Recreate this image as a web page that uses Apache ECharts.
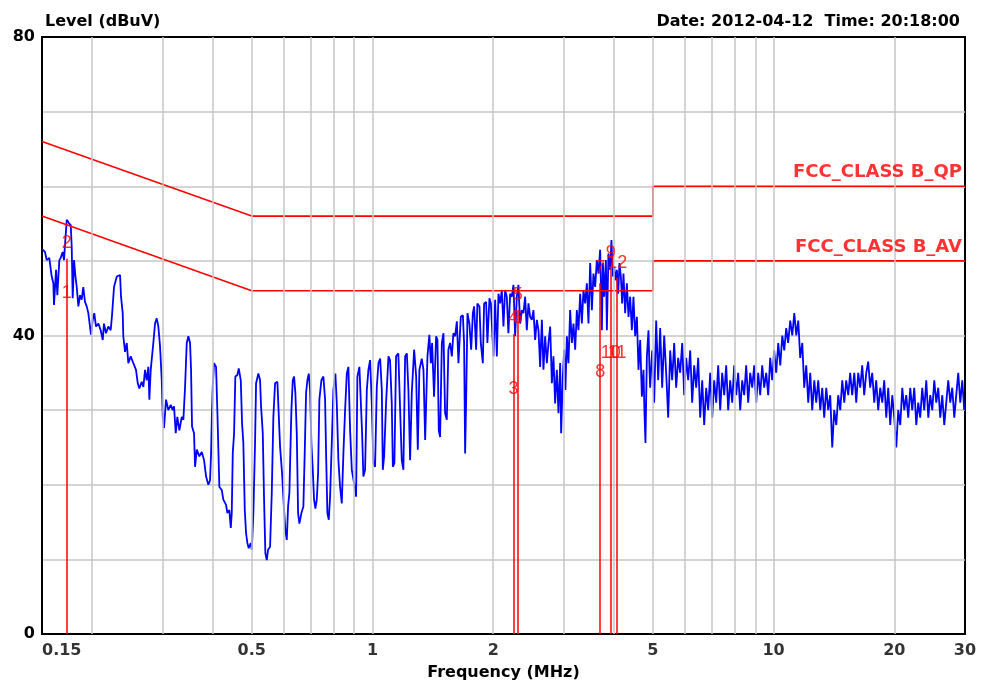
<!DOCTYPE html>
<html>
<head>
<meta charset="utf-8">
<script src="https://cdn.jsdelivr.net/npm/echarts@6.0.0/dist/echarts.min.js"></script>
<style>
html, body { margin: 0; padding: 0; background: #fff; }
#main { width: 983px; height: 686px; }
</style>
</head>
<body>
<div id="main"></div>
<script>
// scan trace, frequency in MHz, level in dBuV
var traceFreq = [
 0.1506,0.1526,0.1541,0.1564,0.1586,0.1601,0.1607,0.1626,0.1638,0.1657,0.1670,0.1689,0.1702,0.1715,0.1729,0.1749,0.1769,0.1779,0.1789,0.1803,
 0.1816,0.1831,0.1848,0.1866,0.1884,0.1901,0.1920,0.1939,0.1957,0.1976,0.1987,0.2007,0.2025,0.2045,0.2073,0.2101,0.2126,0.2141,0.2166,0.2195,
 0.2225,0.2242,0.2268,0.2304,0.2348,0.2361,0.2384,0.2392,0.2416,0.2440,0.2462,0.2496,0.2534,0.2573,0.2599,0.2623,0.2659,0.2684,0.2710,0.2736,
 0.2762,0.2778,0.2800,0.2842,0.2870,0.2898,0.2925,0.2954,0.2983,0.3000,0.3022,0.3057,0.3098,0.3141,0.3177,0.3201,0.3232,0.3262,0.3300,0.3346,
 0.3377,0.3410,0.3443,0.3475,0.3509,0.3529,0.3549,0.3590,0.3611,0.3647,0.3701,0.3753,0.3803,0.3847,0.3898,0.3936,0.3959,0.3975,0.3997,0.4027,
 0.4074,0.4104,0.4152,0.4209,0.4248,0.4315,0.4347,0.4397,0.4433,0.4458,0.4484,0.4518,0.4551,0.4604,0.4641,0.4695,0.4730,0.4765,0.4804,0.4840,
 0.4876,0.4915,0.4972,0.5001,0.5047,0.5096,0.5126,0.5194,0.5245,0.5275,0.5327,0.5367,0.5407,0.5451,0.5491,0.5555,0.5609,0.5661,0.5717,0.5793,
 0.5839,0.5883,0.5951,0.6020,0.6065,0.6114,0.6160,0.6206,0.6278,0.6328,0.6376,0.6423,0.6475,0.6524,0.6573,0.6649,0.6725,0.6780,0.6830,0.6882,
 0.6937,0.6989,0.7041,0.7098,0.7151,0.7205,0.7263,0.7318,0.7372,0.7458,0.7544,0.7618,0.7662,0.7719,0.7781,0.7840,0.7916,0.7990,0.8082,0.8147,
 0.8222,0.8303,0.8384,0.8462,0.8545,0.8629,0.8708,0.8794,0.8880,0.8998,0.9102,0.9170,0.9276,0.9351,0.9421,0.9491,0.9584,0.9679,0.9768,0.9864,
 0.9960,1.005,1.015,1.025,1.035,1.045,1.055,1.061,1.069,1.081,1.096,1.106,1.117,1.124,1.134,1.145,1.160,1.172,1.183,1.194,
 1.206,1.218,1.229,1.241,1.253,1.270,1.285,1.297,1.309,1.327,1.340,1.353,1.371,1.386,1.398,1.408,1.424,1.441,1.452,1.463,
 1.474,1.489,1.503,1.517,1.532,1.546,1.561,1.577,1.591,1.607,1.623,1.638,1.660,1.680,1.692,1.702,1.712,1.725,1.744,1.762,
 1.779,1.792,1.813,1.826,1.848,1.862,1.884,1.898,1.920,1.934,1.957,1.973,2.002,2.022,2.042,2.061,2.081,2.101,2.121,2.141,
 2.162,2.182,2.204,2.225,2.246,2.268,2.290,2.311,2.334,2.357,2.379,2.402,2.425,2.448,2.472,2.496,2.519,2.544,2.569,2.593,
 2.618,2.644,2.668,2.694,2.721,2.746,2.773,2.800,2.826,2.853,2.881,2.908,2.937,2.953,2.982,3.005,3.027,3.052,3.080,3.110,
 3.141,3.170,3.201,3.232,3.262,3.294,3.326,3.357,3.390,3.423,3.455,3.489,3.523,3.555,3.590,3.625,3.659,3.695,3.731,3.753,
 3.781,3.818,3.840,3.875,3.913,3.942,3.974,4.004,4.034,4.067,4.097,4.128,4.161,4.192,4.224,4.265,4.307,4.347,4.389,4.432,
 4.473,4.517,4.562,4.604,4.649,4.694,4.738,4.765,4.792,4.831,4.876,4.904,
 4.923,4.980,5.038,5.096,5.155,5.214,5.275,5.336,5.397,5.460,5.523,5.586,5.651,5.716,5.782,5.849,5.917,5.985,6.054,6.124,
 6.195,6.266,6.339,6.412,6.486,6.561,6.637,6.713,6.791,6.869,6.949,7.029,7.110,7.192,7.275,7.359,7.444,7.530,7.617,7.705,
 7.794,7.884,7.975,8.067,8.160,8.255,8.350,8.447,8.544,8.643,8.743,8.844,8.946,9.049,9.153,9.259,9.366,9.474,9.584,9.694,
 9.806,9.920,10.03,10.15,10.27,10.39,10.51,10.63,10.75,10.87,11.00,11.13,11.26,11.39,11.52,11.65,11.79,11.92,12.06,12.20,
 12.34,12.48,12.63,12.77,12.92,13.07,13.22,13.37,13.53,13.68,13.84,14.00,14.16,14.33,14.49,14.66,14.83,15.00,15.17,15.35,
 15.52,15.70,15.89,16.07,16.25,16.44,16.63,16.82,17.02,17.21,17.41,17.61,17.82,18.02,18.23,18.44,18.66,18.87,19.09,19.31,
 19.53,19.76,19.99,20.22,20.45,20.69,20.93,21.17,21.41,21.66,21.91,22.16,22.42,22.68,22.94,23.20,23.47,23.74,24.02,24.30,
 24.58,24.86,25.15,25.44,25.73,26.03,26.33,26.63,26.94,27.25,27.57,27.88,28.21,28.53,28.86,29.20,29.53,29.87
];
var traceLevel = [
 51.5,51.2,50.1,50.4,47.9,47.0,44.1,48.8,45.4,50.1,50.4,51.2,50.1,52.8,55.5,55.1,54.8,51.9,45.0,50.1,
 48.1,46.5,43.9,45.4,44.8,46.5,44.5,43.9,43.0,41.2,40.1,42.1,43.0,41.2,41.6,40.7,39.4,41.6,40.3,41.2,
 40.7,42.7,46.5,47.9,48.1,45.2,43.0,39.9,37.8,39.0,36.3,37.2,36.3,35.4,33.6,32.9,33.8,33.1,35.4,34.0,
 35.8,31.4,35.4,39.0,41.6,42.3,41.2,38.5,34.0,29.1,27.6,31.4,30.0,30.7,30.0,30.5,26.9,29.1,27.3,29.1,
 28.7,33.1,39.0,39.9,39.0,35.4,27.8,26.9,22.4,24.7,23.8,24.4,23.3,21.1,20.0,20.6,24.2,28.7,33.1,36.3,
 35.8,30.0,19.7,19.3,18.0,17.3,16.2,16.6,14.2,16.2,24.2,26.9,34.5,34.7,35.6,34.0,28.2,25.6,16.6,13.5,
 12.2,11.5,12.2,11.3,16.2,25.6,33.6,34.9,34.0,30.5,26.9,18.0,10.8,9.9,11.3,11.7,18.9,29.1,33.6,33.8,
 34.0,25.1,21.5,16.6,13.9,12.6,17.1,18.9,30.0,34.0,34.5,32.3,26.9,16.2,14.8,16.2,17.1,24.7,32.3,34.0,
 34.9,32.7,25.6,22.0,18.0,16.8,18.0,21.5,31.4,34.0,34.5,31.4,24.2,16.2,15.3,18.4,25.6,32.7,34.9,30.9,
 23.3,19.7,17.5,24.2,30.0,34.9,35.8,27.3,22.0,20.2,18.4,34.5,35.8,35.8,26.9,21.1,22.0,32.7,35.4,36.7,
 30.9,22.9,22.4,33.1,36.3,36.9,32.7,22.0,23.8,30.9,37.2,36.7,30.9,22.4,22.9,37.2,37.6,30.0,23.3,22.0,
 37.2,37.6,32.7,23.3,32.3,38.1,34.5,24.7,35.4,36.9,35.4,26.0,37.2,40.1,36.3,39.0,31.8,39.9,39.4,27.3,
 26.4,39.0,40.3,29.6,28.7,38.1,39.0,37.2,40.3,39.9,41.9,36.3,42.5,42.7,39.0,24.2,31.4,43.0,41.6,38.1,
 43.0,43.9,38.1,44.3,43.9,39.0,36.3,44.3,44.5,39.0,45.0,44.3,37.2,44.8,37.2,45.6,44.3,46.1,41.2,46.1,
 45.2,40.3,45.6,45.2,46.8,39.9,45.2,46.8,41.6,43.4,43.0,45.2,40.7,44.3,42.5,42.1,43.4,39.4,42.1,40.7,
 35.8,42.1,35.4,39.9,36.3,39.0,41.2,33.6,37.2,30.9,35.4,29.6,36.3,26.9,34.5,38.1,32.7,39.9,36.3,43.4,
 39.0,41.6,38.1,43.4,40.7,45.6,41.6,46.1,44.3,47.0,41.6,49.7,43.4,48.3,46.5,50.1,48.3,51.5,40.7,49.7,
 45.2,50.1,40.7,51.0,48.8,52.8,47.9,49.2,47.4,48.8,45.6,49.7,47.9,44.3,48.3,43.0,47.0,42.5,45.2,40.7,
 45.2,39.9,42.5,35.4,39.4,31.8,35.4,29.6,25.6,37.2,40.7,35.4,
 33,38,31,42,34,41,33,40,35,29,38,34,39,33,37,35,39,32,37,34,
 38,31,36,33,37,29,34,28,33,30,35,29,34,31,36,30,35,32,36,30,
 34,31,36,32,35,30,34,32,36,31,35,33,36,31,35,32,36,33,35,32,
 37,34,38,35,39,36,40,38,41,39,42,40,43,40,42,37,39,33,36,31,
 35,30,34,31,34,30,33,29,33,30,32,25,30,28,32,30,34,31,34,32,
 35,32,35,31,35,33,36,32,35,36.5,33,35,31,34,30,33,31,34,29,33,
 28,32,29,25,30,28,33,30,32,29,33,30,33,28,31,29,33,30,34,29,
 32,30,34,31,33,29,32,28,31,34,31,33,29,32,35,31,34,30
];

// FCC class B limit lines
var qpFreq = [0.15, 0.5, 5, 5, 30];
var qpLevel = [66, 56, 56, 60, 60];
var avFreq = [0.15, 0.5, 5, 5, 30];
var avLevel = [56, 46, 46, 50, 50];
var limitNames = ['FCC_CLASS B_QP', 'FCC_CLASS B_AV'];

// final measurement markers
var markerFreq = [0.1729, 0.1729, 2.246, 2.246, 2.303, 2.303, 3.695, 3.695, 3.929, 3.929, 4.074, 4.074];
var markerLevel = [43.6, 50.3, 30.8, 40.2, 43.3, 40.2, 47.0, 33.0, 49.0, 35.6, 35.6, 47.7];
var markerName = ['1', '2', '3', '4', '5', '6', '7', '8', '9', '10', '11', '12'];

// axis ticks
var gridFreq = [0.2, 0.3, 0.4, 0.5, 0.6, 0.7, 0.8, 0.9, 1, 2, 3, 4, 5, 6, 7, 8, 9, 10, 20];
var tickFreq = [0.15, 0.5, 1, 2, 5, 10, 20, 30];
var tickText = ['0.15', '0.5', '1', '2', '5', '10', '20', '30'];

var FONT = 'DejaVu Sans';

function zip(xs, ys) {
    var out = [];
    for (var i = 0; i < xs.length; i++) out.push([xs[i], ys[i]]);
    return out;
}

// limit names sit at the right end of each limit line
var limitLabelData = [
    { value: [qpFreq[qpFreq.length - 1], qpLevel[qpLevel.length - 1]], name: limitNames[0] },
    { value: [avFreq[avFreq.length - 1], avLevel[avLevel.length - 1]], name: limitNames[1] }
];

// vertical red lines, one per marker frequency, from highest marker down to 0
var markerTops = {};
for (var i = 0; i < markerFreq.length; i++) {
    var k = markerFreq[i];
    if (markerTops[k] == null || markerLevel[i] > markerTops[k]) markerTops[k] = markerLevel[i];
}
var markerLines = [];
for (var f in markerTops) {
    markerLines.push([{ coord: [Number(f), markerTops[f]] }, { coord: [Number(f), 0] }]);
}

var tickData = [];
for (var i = 0; i < tickFreq.length; i++) {
    var item = { value: [tickFreq[i], 0], name: tickText[i] };
    if (i == 0) item.label = { align: 'left' };
    tickData.push(item);
}

var markerData = [];
for (var i = 0; i < markerFreq.length; i++) {
    markerData.push({ value: [markerFreq[i], markerLevel[i]], name: markerName[i] });
}

var chart = echarts.init(document.getElementById('main'));
var option = {
    animation: false,
    backgroundColor: '#ffffff',
    title: [
        { text: 'Level (dBuV)', left: 40, top: 9,
          textStyle: { fontFamily: FONT, fontSize: 16, fontWeight: 'bold', color: '#000' } },
        { text: 'Date: 2012-04-12  Time: 20:18:00', right: 18, top: 9,
          textStyle: { fontFamily: FONT, fontSize: 16, fontWeight: 'bold', color: '#000' } }
    ],
    grid: {
        left: 42, right: 18, top: 37, bottom: 52,
        outerBoundsMode: 'none',
        show: true, borderColor: '#000', borderWidth: 2, backgroundColor: '#fff'
    },
    xAxis: {
        type: 'log', logBase: 10, min: 0.15, max: 30,
        name: 'Frequency (MHz)', nameLocation: 'middle', nameGap: 31,
        nameTextStyle: { fontFamily: FONT, fontSize: 16, fontWeight: 'bold', color: '#000' },
        axisLine: { show: true, lineStyle: { color: '#000', width: 2 } },
        axisTick: { show: false },
        axisLabel: { show: false },
        splitLine: { show: false },
        minorTick: { show: false },
        minorSplitLine: { show: false }
    },
    yAxis: {
        type: 'value', min: 0, max: 80, interval: 10,
        axisLine: { show: true, lineStyle: { color: '#000', width: 2 } },
        axisTick: { show: false },
        axisLabel: {
            margin: 7, fontFamily: FONT, fontSize: 16, fontWeight: 'bold', color: '#000',
            formatter: function (v) { return v % 40 == 0 ? String(v) : ''; }
        },
        splitLine: { show: true, showMinLine: false, showMaxLine: false,
                     lineStyle: { color: '#c6c6c6', width: 1.5 } }
    },
    series: [
        {
            name: 'grid',
            type: 'line',
            data: [],
            z: 1,
            markLine: {
                silent: true,
                symbol: ['none', 'none'],
                label: { show: false },
                lineStyle: { color: '#c6c6c6', width: 1.5, type: 'solid' },
                data: gridFreq.map(function (f) { return { xAxis: f }; })
            }
        },
        {
            name: 'ticks',
            type: 'scatter',
            data: tickData,
            symbolSize: 1,
            itemStyle: { color: 'rgba(0,0,0,0)' },
            silent: true,
            z: 5,
            label: {
                show: true, position: 'bottom', distance: 8,
                formatter: '{b}',
                fontFamily: FONT, fontSize: 16, fontWeight: 'bold', color: '#000'
            }
        },
        {
            name: 'FCC_CLASS B_QP',
            type: 'line',
            data: zip(qpFreq, qpLevel),
            showSymbol: false,
            symbol: 'none',
            lineStyle: { color: '#ff0000', width: 1.6 },
            z: 4
        },
        {
            name: 'FCC_CLASS B_AV',
            type: 'line',
            data: zip(avFreq, avLevel),
            showSymbol: false,
            symbol: 'none',
            lineStyle: { color: '#ff0000', width: 1.6 },
            z: 4
        },
        {
            name: 'limitNames',
            type: 'scatter',
            data: limitLabelData,
            symbolSize: 1,
            itemStyle: { color: 'rgba(0,0,0,0)' },
            silent: true,
            z: 6,
            label: {
                show: true, position: 'top', align: 'right', distance: 4, offset: [-3, 0],
                formatter: '{b}',
                fontFamily: FONT, fontSize: 18, fontWeight: 'bold', color: '#ff0000'
            }
        },
        {
            name: 'Trace',
            type: 'line',
            data: zip(traceFreq, traceLevel),
            showSymbol: false,
            symbol: 'none',
            sampling: null,
            lineStyle: { color: '#0000ff', width: 1.8 },
            z: 3
        },
        {
            name: 'Markers',
            type: 'scatter',
            data: markerData,
            symbolSize: 1,
            itemStyle: { color: 'rgba(0,0,0,0)' },
            silent: true,
            z: 6,
            label: {
                show: true, position: 'top', distance: 6,
                formatter: '{b}',
                fontFamily: 'Liberation Sans', fontSize: 18, color: '#ff0000'
            },
            markLine: {
                silent: true,
                symbol: ['none', 'none'],
                label: { show: false },
                lineStyle: { color: '#ff0000', width: 1.5, type: 'solid' },
                data: markerLines
            }
        }
    ]
};
chart.setOption(option);
</script>
</body>
</html>
